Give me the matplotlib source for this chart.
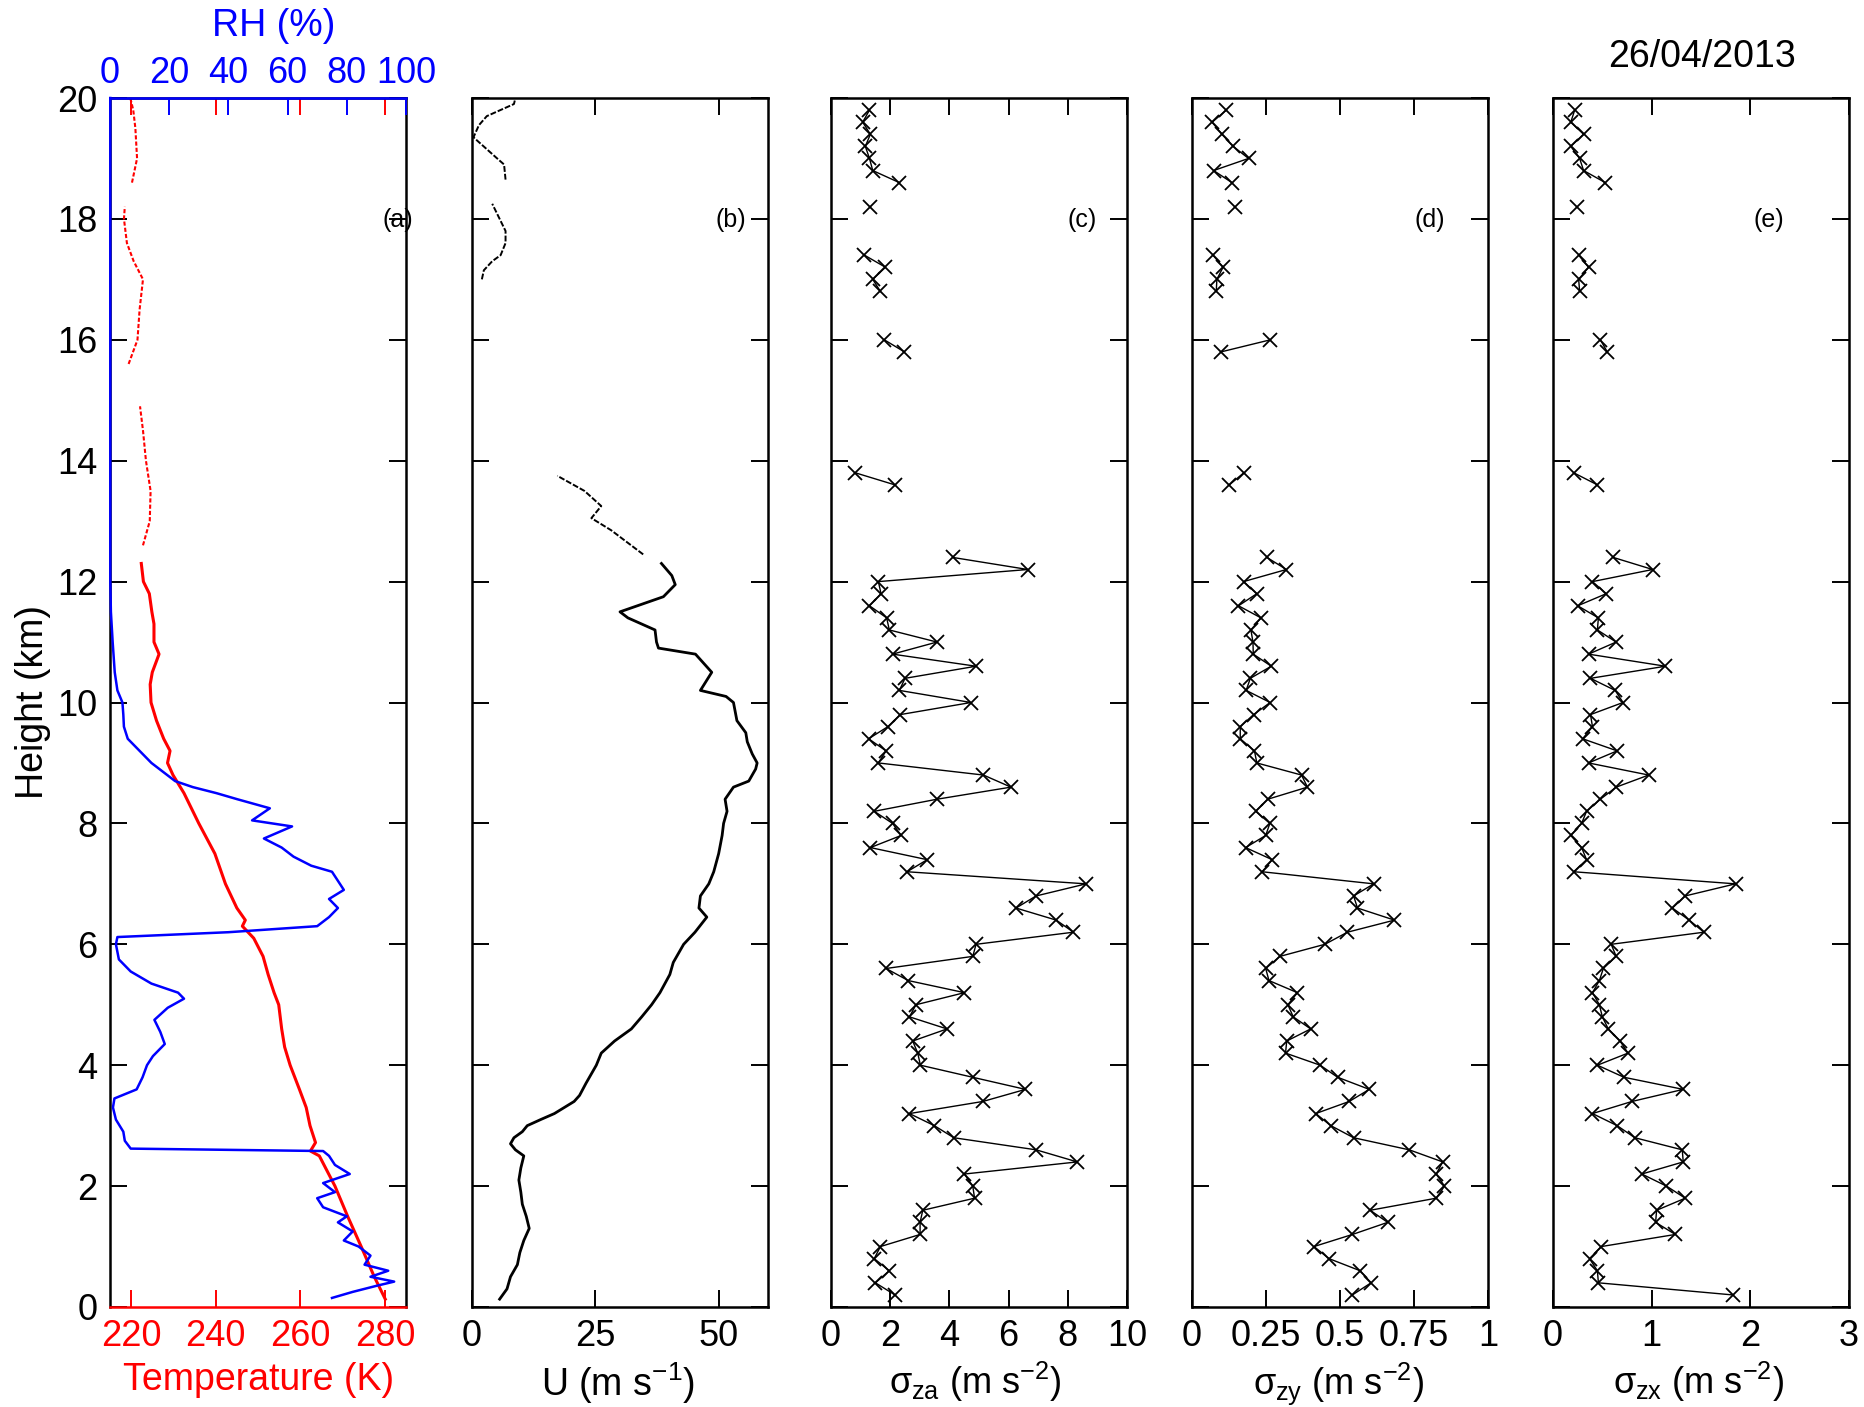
import numpy as np
import matplotlib.pyplot as plt

plt.rcParams['font.family'] = ['Liberation Sans', 'DejaVu Sans']
plt.rcParams['mathtext.fontset'] = 'custom'
plt.rcParams['mathtext.rm'] = 'Liberation Sans'
plt.rcParams['mathtext.it'] = 'Liberation Sans'
plt.rcParams['mathtext.sf'] = 'Liberation Sans'

nan = np.nan

# ---- panel (a): temperature and relative humidity profiles
t_height = [0.13, 0.5, 1.0, 1.5, 2.0, 2.5, 2.58, 2.72, 3.0, 3.3, 3.6, 4.0, 4.3, 4.6, 5.0,
            5.2, 5.5, 5.8, 6.1, 6.3, 6.4, 6.6, 7.0, 7.5, 8.0, 8.5, 8.8, 9.0, 9.2, 9.4,
            9.7, 10.0, 10.3, 10.5, 10.8, 11.0, 11.3, 11.5, 11.8, 12.0, 12.3, 12.6, 13.0,
            13.5, 14.0, 14.5, 14.9, 15.2, 15.6, 16.0, 16.5, 17.0, 17.3, 17.6, 18.0, 18.2,
            18.4, 18.6, 19.0, 19.5, 19.8, 20.0]
t_kelvin = [280.1, 277.5, 274.4, 271.2, 268.2, 264.5, 262.4, 263.6, 262.3, 261.4, 259.8,
            257.6, 256.3, 255.6, 254.9, 253.8, 252.4, 251.2, 249.0, 246.3, 247.0, 245.0,
            242.3, 239.8, 236.0, 232.5, 229.9, 228.6, 229.2, 227.7, 226.0, 224.7, 224.5,
            225.0, 226.6, 225.4, 225.4, 224.9, 224.3, 222.9, 222.4, 222.8, 224.4, 224.6,
            223.5, 222.8, 222.1, nan, 219.4, 221.5, 222.0, 222.8, 220.6, 219.0, 218.3,
            218.5, nan, 220.2, 221.4, 221.0, 220.5, 219.8]

rh_height = [0.15, 0.25, 0.35, 0.42, 0.5, 0.6, 0.7, 0.85, 1.0, 1.1, 1.25, 1.4, 1.5, 1.65,
             1.8, 1.9, 2.05, 2.2, 2.35, 2.5, 2.58, 2.62, 2.75, 2.9, 3.1, 3.3, 3.45, 3.6,
             3.8, 4.0, 4.15, 4.35, 4.55, 4.75, 4.95, 5.1, 5.2, 5.35, 5.55, 5.75, 6.0,
             6.12, 6.2, 6.3, 6.45, 6.6, 6.75, 6.9, 7.05, 7.2, 7.3, 7.45, 7.6, 7.75, 7.95,
             8.05, 8.25, 8.4, 8.5, 8.6, 8.7, 8.85, 9.0, 9.2, 9.4, 9.6, 9.8, 10.0, 10.2,
             10.5, 11.0, 11.5, 12.0, 20.0]
rh_percent = [75, 82, 90, 96, 88, 94, 86, 88, 84, 79, 82, 77, 80, 72, 70, 76, 72, 81, 76,
              74, 72, 7, 5, 4.5, 2, 1, 1.5, 9, 11, 12.5, 14.5, 18.5, 17, 15, 19.5, 25, 23,
              14, 7, 3, 2, 2.5, 40, 70, 74, 77, 74, 79, 77, 75, 68, 62, 58, 52, 61.5, 48,
              54, 43, 36, 28, 22, 18, 14, 10, 6, 4.7, 4.5, 4.2, 2.5, 1.6, 0.9, 0.3, 0.1, 0.1]

# ---- panel (b): horizontal wind speed
u_height = [0.13, 0.3, 0.5, 0.7, 0.9, 1.1, 1.3, 1.5, 1.7, 1.9, 2.1, 2.3, 2.5, 2.6, 2.7,
            2.8, 2.9, 3.0, 3.1, 3.2, 3.4, 3.5, 3.7, 4.0, 4.2, 4.4, 4.6, 4.8, 5.0, 5.2,
            5.5, 5.7, 6.0, 6.2, 6.45, 6.6, 6.8, 7.0, 7.2, 7.5, 7.8, 8.0, 8.2, 8.4, 8.6,
            8.7, 8.9, 9.0, 9.15, 9.35, 9.5, 9.7, 10.0, 10.1, 10.2, 10.5, 10.8, 10.9, 11.0,
            11.2, 11.4, 11.5, 11.75, 11.95, 12.1, 12.3, 12.45, 12.85, 13.05, 13.25, 13.5,
            13.75, 15.0, 17.0, 17.15, 17.3, 17.4, 17.6, 17.8, 18.25, 18.45, 18.65, 18.9,
            19.0, 19.35, 19.55, 19.7, 19.9, 20.0]
u_wind = [5.6, 7.1, 7.8, 9.2, 9.7, 10.5, 11.6, 11.0, 10.2, 9.9, 9.5, 9.9, 10.5, 8.8, 7.8,
          8.5, 10.2, 11.2, 13.9, 16.7, 20.7, 21.8, 23.1, 25.2, 26.2, 28.9, 32.3, 34.4,
          36.4, 38.1, 40.1, 40.8, 42.9, 45.2, 47.6, 46.0, 46.3, 48.0, 49.0, 50.0, 50.7,
          51.0, 51.7, 51.3, 53.0, 56.1, 57.5, 57.8, 56.8, 55.8, 55.5, 53.7, 53.0, 51.5,
          46.3, 48.6, 45.3, 37.8, 37.4, 37.1, 31.6, 30.0, 38.8, 41.2, 40.5, 38.4, 34.7,
          28.2, 24.2, 26.2, 22.8, 17.3, nan, 2.0, 2.4, 4.1, 5.8, 6.8, 6.8, 4.1, nan, 6.8,
          6.5, 5.1, 0.3, 1.4, 3.0, 8.5, 8.8]

# ---- panels (c)-(e): standard deviations, one value per 0.2 km level
levels = [0.2, 0.4, 0.6, 0.8, 1.0, 1.2, 1.4, 1.6, 1.8, 2.0,
          2.2, 2.4, 2.6, 2.8, 3.0, 3.2, 3.4, 3.6, 3.8, 4.0,
          4.2, 4.4, 4.6, 4.8, 5.0, 5.2, 5.4, 5.6, 5.8, 6.0,
          6.2, 6.4, 6.6, 6.8, 7.0, 7.2, 7.4, 7.6, 7.8, 8.0,
          8.2, 8.4, 8.6, 8.8, 9.0, 9.2, 9.4, 9.6, 9.8, 10.0,
          10.2, 10.4, 10.6, 10.8, 11.0, 11.2, 11.4, 11.6, 11.8, 12.0,
          12.2, 12.4, 12.6, 12.8, 13.0, 13.2, 13.4, 13.6, 13.8, 14.0,
          14.2, 14.4, 14.6, 14.8, 15.0, 15.2, 15.4, 15.6, 15.8, 16.0,
          16.2, 16.4, 16.6, 16.8, 17.0, 17.2, 17.4, 17.6, 17.8, 18.0,
          18.2, 18.4, 18.6, 18.8, 19.0, 19.2, 19.4, 19.6, 19.8]
sigma_za = [2.16, 1.50, 1.97, 1.46, 1.67, 3.01, 3.01, 3.10, 4.85, 4.79,
            4.51, 8.32, 6.93, 4.15, 3.49, 2.65, 5.13, 6.57, 4.79, 3.02,
            2.93, 2.76, 3.92, 2.65, 2.87, 4.51, 2.61, 1.86, 4.79, 4.90,
            8.19, 7.61, 6.25, 6.93, 8.62, 2.57, 3.25, 1.33, 2.37, 2.08,
            1.46, 3.58, 6.08, 5.15, 1.60, 1.86, 1.27, 1.92, 2.34, 4.73,
            2.31, 2.50, 4.90, 2.08, 3.58, 1.97, 1.88, 1.30, 1.69, 1.60,
            6.65, 4.11, nan, nan, nan, nan, nan, 2.16, 0.82, nan,
            nan, nan, nan, nan, nan, nan, nan, nan, 2.48, 1.80,
            nan, nan, nan, 1.67, 1.41, 1.84, 1.13, nan, nan, nan,
            1.33, nan, 2.31, 1.41, 1.30, 1.16, 1.33, 1.07, 1.30]
sigma_zy = [0.542, 0.605, 0.568, 0.463, 0.412, 0.542, 0.661, 0.602, 0.825, 0.853,
            0.825, 0.847, 0.734, 0.546, 0.469, 0.418, 0.531, 0.599, 0.492, 0.433,
            0.316, 0.320, 0.401, 0.342, 0.324, 0.356, 0.260, 0.249, 0.297, 0.449,
            0.525, 0.684, 0.559, 0.546, 0.614, 0.237, 0.271, 0.181, 0.249, 0.263,
            0.215, 0.256, 0.390, 0.370, 0.219, 0.211, 0.163, 0.163, 0.208, 0.264,
            0.183, 0.197, 0.268, 0.207, 0.206, 0.199, 0.233, 0.157, 0.219, 0.174,
            0.319, 0.253, nan, nan, nan, nan, nan, 0.126, 0.175, nan,
            nan, nan, nan, nan, nan, nan, nan, nan, 0.098, 0.265,
            nan, nan, nan, 0.082, 0.084, 0.105, 0.071, nan, nan, nan,
            0.146, nan, 0.135, 0.073, 0.191, 0.139, 0.101, 0.068, 0.116]
sigma_zx = [1.82, 0.46, 0.45, 0.37, 0.49, 1.24, 1.04, 1.05, 1.34, 1.15,
            0.90, 1.32, 1.31, 0.83, 0.65, 0.40, 0.80, 1.32, 0.72, 0.45,
            0.76, 0.68, 0.56, 0.50, 0.47, 0.40, 0.47, 0.51, 0.64, 0.59,
            1.53, 1.38, 1.21, 1.34, 1.85, 0.21, 0.34, 0.29, 0.18, 0.29,
            0.34, 0.48, 0.64, 0.97, 0.36, 0.65, 0.30, 0.40, 0.38, 0.71,
            0.63, 0.38, 1.14, 0.36, 0.64, 0.45, 0.46, 0.25, 0.54, 0.40,
            1.01, 0.61, nan, nan, nan, nan, nan, 0.45, 0.21, nan,
            nan, nan, nan, nan, nan, nan, nan, nan, 0.55, 0.48,
            nan, nan, nan, 0.27, 0.26, 0.36, 0.26, nan, nan, nan,
            0.24, nan, 0.53, 0.31, 0.27, 0.18, 0.31, 0.18, 0.22]

height_ticks = [0, 2, 4, 6, 8, 10, 12, 14, 16, 18, 20]
temp_ticks = [220, 240, 260, 280]
rh_ticks = [0, 20, 40, 60, 80, 100]
u_ticks = [0, 25, 50]
za_ticks = [0, 2, 4, 6, 8, 10]
zy_ticks = [0, 0.25, 0.5, 0.75, 1]
zy_labels = ['0', '0.25', '0.5', '0.75', '1']
zx_ticks = [0, 1, 2, 3]

W, H = 1865.0, 1407.0
fig = plt.figure(figsize=(W / 100, H / 100), dpi=100)

lefts = [110, 472, 831, 1192, 1553]
top_px, bot_px, width_px = 98, 1307, 296
axes = []
for left in lefts:
    ax = fig.add_axes([left / W, 1 - bot_px / H, width_px / W, (bot_px - top_px) / H])
    ax.set_ylim(0, 20)
    ax.set_yticks(height_ticks)
    for s in ax.spines.values():
        s.set_linewidth(1.8)
    axes.append(ax)

tick_kw = dict(direction='in', length=12, width=1.4, labelsize=26)

# (a) - lower troposphere drawn solid, the sparse upper soundings thinner
ax = axes[0]
t_h = np.array(t_height)
t_v = np.array(t_kelvin)
low = t_h <= 12.3
ax.plot(t_v[low], t_h[low], color='red', lw=2.2)
ax.plot(t_v[~low], t_h[~low], color='red', lw=1.5, ls=(0, (2, 1)))
ax.set_xlim(215, 285)
ax.set_xticks(temp_ticks)
ax_rh = ax.twiny()
ax_rh.set_xlim(0, 100)
ax_rh.set_xticks(rh_ticks)
ax_rh.plot(rh_percent, rh_height, color='blue', lw=1.8, clip_on=False)
for side in ['bottom', 'left', 'right']:
    ax_rh.spines[side].set_visible(False)
ax_rh.spines['top'].set_color('blue')
ax_rh.spines['top'].set_linewidth(1.8)
ax_rh.tick_params(axis='x', colors='blue', pad=5, **tick_kw)
ax.spines['bottom'].set_color('red')
ax.tick_params(axis='x', colors='red', top=True, labeltop=False, pad=9, **tick_kw)
ax.tick_params(axis='y', left=True, right=True, pad=9, **tick_kw)
ax.set_yticklabels([str(v) for v in height_ticks])

# (b)
ax = axes[1]
u_h = np.array(u_height)
u_v = np.array(u_wind)
low = u_h <= 12.3
ax.plot(u_v[low], u_h[low], color='black', lw=2.0)
ax.plot(u_v[~low], u_h[~low], color='black', lw=1.4, ls=(0, (3, 1)))
ax.set_xlim(0, 60)
ax.set_xticks(u_ticks)

# (c)-(e)
mk = dict(color='black', lw=1.0, marker='x', ms=10, mew=1.3)
axes[2].plot(sigma_za, levels, **mk)
axes[2].set_xlim(0, 10)
axes[2].set_xticks(za_ticks)
axes[3].plot(sigma_zy, levels, **mk)
axes[3].set_xlim(0, 1)
axes[3].set_xticks(zy_ticks)
axes[3].set_xticklabels(zy_labels)
axes[4].plot(sigma_zx, levels, **mk)
axes[4].set_xlim(0, 3)
axes[4].set_xticks(zx_ticks)

for ax in axes[1:]:
    ax.tick_params(axis='both', top=True, right=True, labelleft=False, pad=9, **tick_kw)

# labels
fig.text(33 / W, 1 - 702 / H, 'Height (km)', rotation=90, ha='center', va='center', fontsize=27)
fig.text(259 / W, 1 - 1390 / H, 'Temperature (K)', color='red', ha='center', va='baseline', fontsize=27)
fig.text(274 / W, 1 - 26 / H, 'RH (%)', color='blue', ha='center', va='center', fontsize=27)
fig.text(618 / W, 1 - 1396 / H, r'U (m s$^{-1}$)', ha='center', va='baseline', fontsize=27)
fig.text(975 / W, 1 - 1394 / H, r'$\sigma_{\rm za}$ (m s$^{-2}$)', ha='center', va='baseline', fontsize=26)
fig.text(1338 / W, 1 - 1394 / H, r'$\sigma_{\rm zy}$ (m s$^{-2}$)', ha='center', va='baseline', fontsize=26)
fig.text(1698 / W, 1 - 1394 / H, r'$\sigma_{\rm zx}$ (m s$^{-2}$)', ha='center', va='baseline', fontsize=26)
fig.text(1702 / W, 1 - 57 / H, '26/04/2013', ha='center', va='center', fontsize=27)

panel_x = [398, 731, 1082, 1430, 1769]
for px, tag in zip(panel_x, ['(a)', '(b)', '(c)', '(d)', '(e)']):
    fig.text(px / W, 1 - 220 / H, tag, ha='center', va='center', fontsize=18)

fig.savefig('out.png', dpi=100)
